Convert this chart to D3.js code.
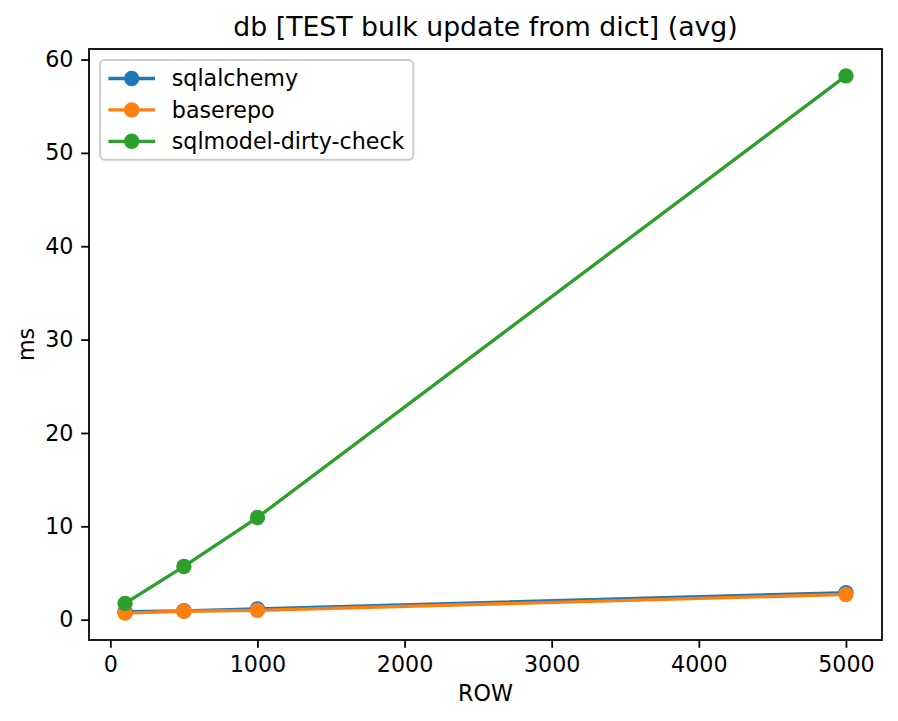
<!DOCTYPE html>
<html>
<head>
<meta charset="utf-8">
<script src="https://cdn.jsdelivr.net/npm/d3@7"></script>
<style>
  html, body { margin: 0; padding: 0; background: #ffffff; }
  svg { display: block; }
  text { font-family: "DejaVu Sans", sans-serif; fill: #000; }
</style>
</head>
<body>
<svg id="chart" width="898" height="721"></svg>
<script>
// ---- data ----
const rows = [100, 500, 1000, 5000];
const seriesNames = ["sqlalchemy", "baserepo", "sqlmodel-dirty-check"];
const sqlalchemy = [0.85, 0.95, 1.15, 2.9];
const baserepo = [0.7, 0.9, 1.0, 2.7];
const sqlmodelDirtyCheck = [1.75, 5.7, 10.95, 58.25];
const xTicks = [0, 1000, 2000, 3000, 4000, 5000];
const yTicks = [0, 10, 20, 30, 40, 50, 60];
const colors = ["#1f77b4", "#ff7f0e", "#2ca02c"];
const titleText = "db [TEST bulk update from dict] (avg)";
const xLabelText = "ROW";
const yLabelText = "ms";

const seriesValues = [sqlalchemy, baserepo, sqlmodelDirtyCheck];
const series = seriesNames.map((name, i) => ({
  name, color: colors[i],
  points: rows.map((r, j) => ({ x: r, y: seriesValues[i][j] }))
}));

// ---- layout ----
const L = 89, R = 882, T = 49, B = 640;
const fs = 22.2, titleFs = 26.7;
const lw = 3.33, mr = 7.7, spineW = 1.78, tickLen = 7.78, tickPad = 7.78;

const svg = d3.select("#chart");

function padded(vals) {
  const mn = d3.min(vals), mx = d3.max(vals), m = (mx - mn) * 0.05;
  return [mn - m, mx + m];
}
const allY = seriesValues.flat();
const x = d3.scaleLinear().domain(padded(rows)).range([L, R]);
const y = d3.scaleLinear().domain(padded(allY)).range([B, T]);

// clip
svg.append("defs").append("clipPath").attr("id", "clip")
  .append("rect").attr("x", L).attr("y", T).attr("width", R - L).attr("height", B - T);

// series
const plot = svg.append("g").attr("clip-path", "url(#clip)");
const line = d3.line().x(d => x(d.x)).y(d => y(d.y));
series.forEach(s => {
  const g = plot.append("g");
  g.append("path").datum(s.points).attr("d", line)
    .attr("fill", "none").attr("stroke", s.color).attr("stroke-width", lw)
    .attr("stroke-linejoin", "round").attr("stroke-linecap", "square");
  g.selectAll("circle").data(s.points).join("circle")
    .attr("cx", d => x(d.x)).attr("cy", d => y(d.y)).attr("r", mr)
    .attr("fill", s.color);
});

// axes
const xAxis = d3.axisBottom(x).tickValues(xTicks).tickFormat(d3.format("d"))
  .tickSize(tickLen).tickPadding(tickPad);
const yAxis = d3.axisLeft(y).tickValues(yTicks).tickFormat(d3.format("d"))
  .tickSize(tickLen).tickPadding(tickPad);

const gx = svg.append("g").attr("transform", `translate(0,${B})`).call(xAxis);
const gy = svg.append("g").attr("transform", `translate(${L},0)`).call(yAxis);
[gx, gy].forEach(g => {
  g.select(".domain").remove();
  g.selectAll(".tick line").attr("stroke", "#000").attr("stroke-width", spineW);
  g.selectAll(".tick text").attr("font-size", fs).attr("fill", "#000")
    .attr("font-family", "DejaVu Sans");
});
gx.selectAll(".tick text").attr("dy", "0.76em");

// spines
svg.append("rect").attr("x", L).attr("y", T).attr("width", R - L).attr("height", B - T)
  .attr("fill", "none").attr("stroke", "#000").attr("stroke-width", spineW)
  .attr("stroke-linejoin", "miter");

// title
svg.append("text").attr("x", (L + R) / 2).attr("y", T - 13)
  .attr("text-anchor", "middle").attr("font-size", titleFs).text(titleText);

// axis labels
svg.append("text").attr("x", (L + R) / 2).attr("y", 701)
  .attr("text-anchor", "middle").attr("font-size", fs).text(xLabelText);
svg.append("text").attr("transform", `translate(33.5,${(T + B) / 2}) rotate(-90)`)
  .attr("text-anchor", "middle").attr("font-size", fs).text(yLabelText);

// legend
const lg = svg.append("g");
const frameX = L + 11.1, frameY = T + 11.1;
const rowH = 31.4, firstRow = frameY + 18.4;
const handleX0 = frameX + 8.3, handleX1 = handleX0 + 46.6, textX = handleX1 + 16.8;
const frame = lg.append("rect").attr("x", frameX).attr("y", frameY)
  .attr("rx", 4.4).attr("ry", 4.4)
  .attr("fill", "#ffffff").attr("fill-opacity", 0.8)
  .attr("stroke", "#cccccc").attr("stroke-width", 2.0);
let maxW = 0;
series.forEach((s, i) => {
  const cy = firstRow + i * rowH;
  lg.append("line").attr("x1", handleX0).attr("x2", handleX1).attr("y1", cy).attr("y2", cy)
    .attr("stroke", s.color).attr("stroke-width", lw);
  lg.append("circle").attr("cx", (handleX0 + handleX1) / 2).attr("cy", cy).attr("r", mr)
    .attr("fill", s.color);
  const t = lg.append("text").attr("x", textX).attr("y", cy).attr("dy", "0.35em")
    .attr("font-size", fs).text(s.name);
  maxW = Math.max(maxW, t.node().getComputedTextLength());
});
frame.attr("width", textX + maxW + 8.9 - frameX)
  .attr("height", firstRow + 2 * rowH + 18.4 - frameY);
</script>
</body>
</html>
